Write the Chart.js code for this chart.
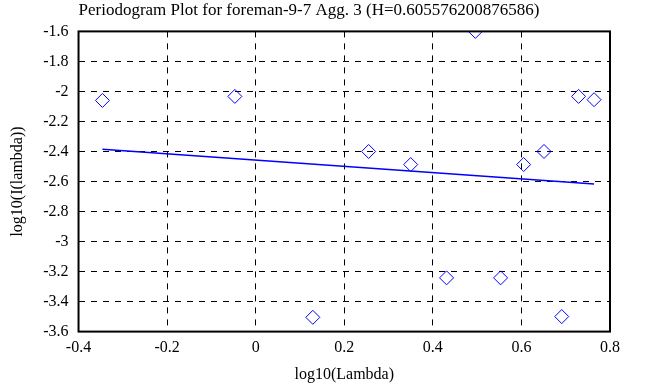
<!DOCTYPE html>
<html>
<head>
<meta charset="utf-8">
<script src="https://cdn.jsdelivr.net/npm/chart.js@4"></script>
<style>
  body { margin: 0; background: #fff; }
  #wrap { width: 658px; height: 387px; }
</style>
</head>
<body>
<div id="wrap"><canvas id="myChart"></canvas></div>
<script>
var ctx = document.getElementById("myChart").getContext("2d");

// periodogram points (log10 lambda, log10 I(lambda))
var logLambda = [-0.346, -0.047, 0.129, 0.255, 0.350, 0.431, 0.496, 0.553, 0.605, 0.651, 0.691, 0.729, 0.764];
var logI = [-2.06, -2.033, -3.505, -2.40, -2.487, -3.242, -1.60, -3.242, -2.487, -2.40, -3.50, -2.033, -2.055];

// fitted line end points
var fitX = [-0.346, 0.764];
var fitY = [-2.385, -2.616];

var points = logLambda.map(function (x, i) { return { x: x, y: logI[i] }; });
var fit = fitX.map(function (x, i) { return { x: x, y: fitY[i] }; });

var serif = "'Liberation Serif', 'Times New Roman', serif";

// closed black frame round the plot area
var frame = {
    id: 'frame',
    afterDraw: function (chart) {
        var a = chart.chartArea, c = chart.ctx;
        c.save();
        c.strokeStyle = '#000';
        c.lineWidth = 2;
        c.strokeRect(a.left, a.top, a.right - a.left, a.bottom - a.top);
        c.restore();
    }
};

var myChart = new Chart(ctx, {
    type: 'scatter',
    data: {
        datasets: [{
            label: 'periodogram',
            data: points,
            pointStyle: 'rectRot',
            pointRadius: 7,
            pointBorderWidth: 1,
            borderColor: '#0000ff',
            backgroundColor: 'rgba(0,0,0,0)',
            showLine: false
        }, {
            label: 'fit',
            data: fit,
            showLine: true,
            borderColor: '#0000ff',
            borderWidth: 1.5,
            pointRadius: 0
        }]
    },
    plugins: [frame],
    options: {
        responsive: true,
        maintainAspectRatio: false,
        animation: false,
        layout: { padding: { right: 48, top: 0, left: 8, bottom: 3 } },
        plugins: {
            legend: { display: false },
            tooltip: { enabled: false },
            title: {
                display: true,
                text: 'Periodogram Plot for foreman-9-7 Agg. 3 (H=0.605576200876586)',
                color: '#000',
                font: { family: serif, size: 17, weight: 'normal' },
                padding: { top: 0, bottom: 11 }
            }
        },
        scales: {
            x: {
                type: 'linear',
                min: -0.4,
                max: 0.8,
                ticks: {
                    stepSize: 0.2,
                    color: '#000',
                    font: { family: serif, size: 16 },
                    padding: 7,
                    callback: function (v) { return Math.round(v * 10) / 10; }
                },
                grid: { color: '#000', lineWidth: 1, drawTicks: false },
                border: { dash: [6, 6], display: false },
                title: {
                    display: true,
                    text: 'log10(Lambda)',
                    color: '#000',
                    font: { family: serif, size: 16 },
                    padding: { top: 0, bottom: 0 }
                }
            },
            y: {
                type: 'linear',
                min: -3.6,
                max: -1.6,
                ticks: {
                    stepSize: 0.2,
                    color: '#000',
                    font: { family: serif, size: 16 },
                    padding: 10,
                    callback: function (v) { return Math.round(v * 10) / 10; }
                },
                grid: { color: '#000', lineWidth: 1, drawTicks: false },
                border: { dash: [6, 6], display: false },
                title: {
                    display: true,
                    text: 'log10(I(lambda))',
                    color: '#000',
                    font: { family: serif, size: 16 },
                    padding: { top: 0, bottom: 6 }
                }
            }
        }
    }
});
</script>
</body>
</html>
